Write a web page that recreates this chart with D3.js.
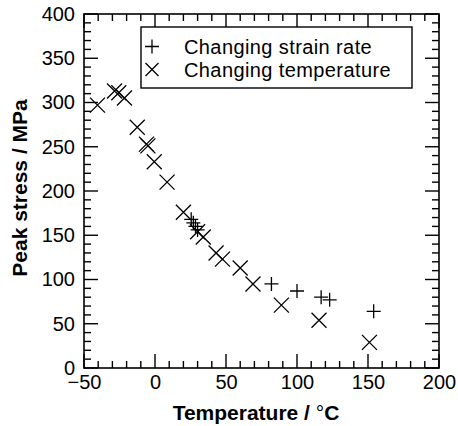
<!DOCTYPE html>
<html>
<head>
<meta charset="utf-8">
<script src="https://cdn.jsdelivr.net/npm/d3@7"></script>
<style>
  body { margin: 0; background: #fff; }
  svg { display: block; font-family: "Liberation Sans", Arial, Helvetica, sans-serif; }
</style>
</head>
<body>
<svg id="chart" width="458" height="426"></svg>
<script>
// ---- data ----
const strainRateT = [25.5, 27, 28.5, 30, 82, 100, 117, 123, 154];
const strainRateS = [168, 164, 160, 156, 95, 87, 80, 77, 64];
const tempT = [-40.5, -28.5, -25.5, -21.5, -12.5, -6, -5, -0.5, 8.5, 20, 30, 34, 43, 47.5, 60, 69, 89, 115.5, 151];
const tempS = [297, 313, 311, 305, 272, 253, 251, 233, 210, 176, 154, 148, 130, 123, 113, 95, 71, 54, 29];
const xTicks = [-50, 0, 50, 100, 150, 200];
const yTicks = [0, 50, 100, 150, 200, 250, 300, 350, 400];
const legendLabels = ["Changing strain rate", "Changing temperature"];
const xTitle = "Temperature / ";
const yTitle = "Peak stress / MPa";

// ---- layout ----
const L = 84, R = 439, T = 14, B = 368;
const svg = d3.select("#chart");
const x = d3.scaleLinear().domain([-50, 200]).range([L, R]);
const y = d3.scaleLinear().domain([0, 400]).range([B, T]);

const majorLen = 14, minorLen = 7;
const g = svg.append("g").attr("stroke", "#000").attr("stroke-width", 1.4).attr("fill", "none");

// minor/major ticks on all four sides (inward)
const xMinor = d3.range(-50, 200.01, 10);
const yMinor = d3.range(0, 400.01, 10);
xMinor.forEach(v => {
  const len = (Math.round(v) % 50 === 0) ? majorLen : minorLen;
  g.append("line").attr("x1", x(v)).attr("x2", x(v)).attr("y1", B).attr("y2", B - len);
  g.append("line").attr("x1", x(v)).attr("x2", x(v)).attr("y1", T).attr("y2", T + len);
});
yMinor.forEach(v => {
  const len = (Math.round(v) % 50 === 0) ? majorLen : minorLen;
  g.append("line").attr("y1", y(v)).attr("y2", y(v)).attr("x1", L).attr("x2", L + len);
  g.append("line").attr("y1", y(v)).attr("y2", y(v)).attr("x1", R).attr("x2", R - len);
});
g.append("rect").attr("x", L).attr("y", T).attr("width", R - L).attr("height", B - T).attr("stroke-width", 1.6);

// tick labels
const xAxis = d3.axisBottom(x).tickValues(xTicks).tickSize(0).tickPadding(0)
  .tickFormat(d => d < 0 ? "\u2212" + Math.abs(d) : d);
const xa = svg.append("g").attr("transform", `translate(0,${B})`).call(xAxis);
xa.select(".domain").remove();
xa.selectAll("text").attr("font-size", 20).attr("font-family", "Liberation Sans, Arial, sans-serif")
  .attr("fill", "#000").attr("y", 21).attr("dy", 0);

const yAxis = d3.axisLeft(y).tickValues(yTicks).tickSize(0).tickPadding(9);
const ya = svg.append("g").attr("transform", `translate(${L},0)`).call(yAxis);
ya.select(".domain").remove();
ya.selectAll("text").attr("font-size", 20).attr("font-family", "Liberation Sans, Arial, sans-serif")
  .attr("fill", "#000");

// axis titles
const xt = svg.append("text").attr("x", 256).attr("y", 420).attr("text-anchor", "middle")
  .attr("font-size", 21).attr("font-weight", "bold").attr("fill", "#000").text(xTitle);
xt.append("tspan").attr("font-weight", "normal").text("\u00B0");
xt.append("tspan").text("C");

svg.append("text").attr("transform", `translate(27,188) rotate(-90)`).attr("text-anchor", "middle")
  .attr("font-size", 21).attr("font-weight", "bold").attr("fill", "#000").text(yTitle);

// markers
const mk = svg.append("g").attr("stroke", "#000").attr("stroke-width", 1.3).attr("fill", "none");
function plus(sel, cx, cy, h) {
  sel.append("path").attr("d", `M${cx - h},${cy}H${cx + h}M${cx},${cy - h}V${cy + h}`);
}
function cross(sel, cx, cy, h) {
  sel.append("path").attr("d", `M${cx - h},${cy - h}L${cx + h},${cy + h}M${cx - h},${cy + h}L${cx + h},${cy - h}`);
}
strainRateT.forEach((t, i) => plus(mk, x(t), y(strainRateS[i]), 7));
tempT.forEach((t, i) => cross(mk, x(t), y(tempS[i]), 7.5));

// legend
const lg = svg.append("g");
lg.append("rect").attr("x", 141).attr("y", 27).attr("width", 271).attr("height", 61)
  .attr("fill", "#fff").attr("stroke", "#000").attr("stroke-width", 1.4);
const lgm = lg.append("g").attr("stroke", "#000").attr("stroke-width", 1.3).attr("fill", "none");
const rowY = [46.5, 69.5];
plus(lgm, 152, rowY[0], 7);
cross(lgm, 152, rowY[1], 6.5);
legendLabels.forEach((s, i) => {
  lg.append("text").attr("x", 184).attr("y", rowY[i]).attr("dy", "0.35em")
    .attr("font-size", 20).attr("letter-spacing", 0.4).attr("fill", "#000").text(s);
});
</script>
</body>
</html>
